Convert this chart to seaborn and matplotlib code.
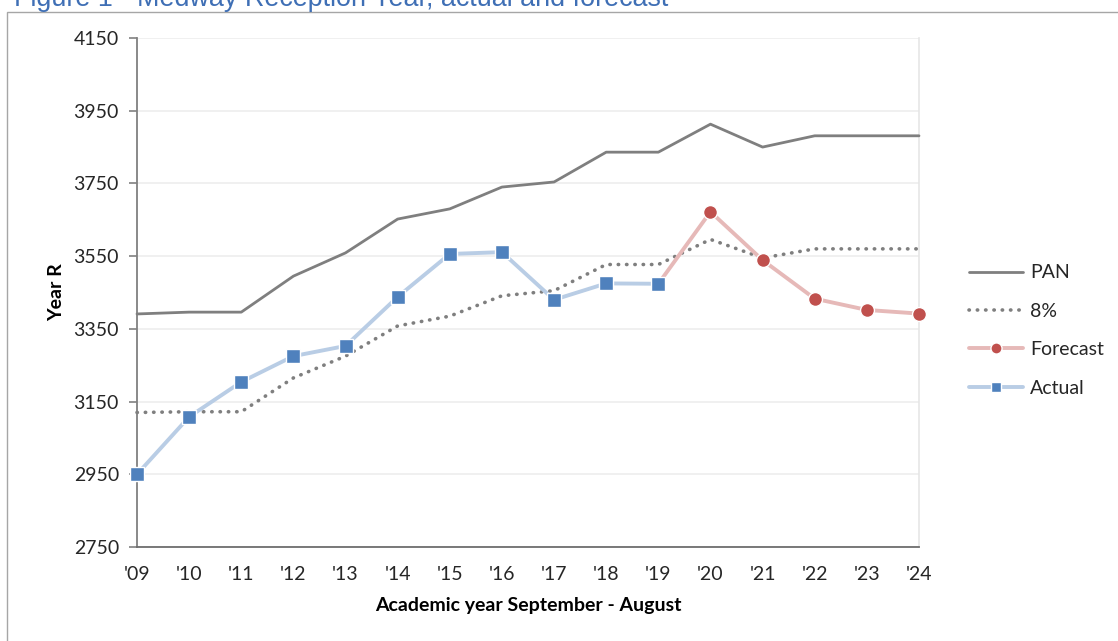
import matplotlib
matplotlib.use("Agg")
import matplotlib.pyplot as plt
from matplotlib.patches import Rectangle
from matplotlib.lines import Line2D
import seaborn as sns
import pandas as pd

# Academic years (Sept - Aug), shown as two-digit labels
years = ["'09", "'10", "'11", "'12", "'13", "'14", "'15", "'16",
         "'17", "'18", "'19", "'20", "'21", "'22", "'23", "'24"]

# Published admission number
pan = [3391, 3396, 3396, 3495, 3559, 3652, 3680, 3740,
       3754, 3836, 3836, 3913, 3850, 3881, 3881, 3881]

# PAN less 8% surplus
pct8 = [3120, 3122, 3122, 3215, 3275, 3358, 3385, 3441,
        3455, 3527, 3527, 3596, 3545, 3570, 3570, 3570]

# Actual Year R numbers on roll, '09 to '19
actual = [2950, 3108, 3204, 3275, 3303, 3438, 3556, 3561,
          3430, 3475, 3474]

# Forecast, continuing from the last actual year ('19 to '24)
forecast = [3474, 3672, 3539, 3433, 3402, 3392]

yticks = [2750, 2950, 3150, 3350, 3550, 3750, 3950, 4150]

sns.set_theme(style="white")
plt.rcParams["font.family"] = ["Lato", "DejaVu Sans"]

fig = plt.figure(figsize=(11.18, 6.41), dpi=100)
ax = fig.add_axes([137 / 1118, 1 - 547 / 641, (919 - 137) / 1118, (547 - 38) / 641])

idx = list(range(len(years)))
df_pan = pd.DataFrame({"x": idx, "y": pan})
df_8 = pd.DataFrame({"x": idx, "y": pct8})
df_act = pd.DataFrame({"x": idx[:len(actual)], "y": actual})
df_fc = pd.DataFrame({"x": idx[len(actual) - 1:], "y": forecast})

sns.lineplot(data=df_pan, x="x", y="y", ax=ax, color="#7F7F7F", lw=2.0, zorder=3,
             clip_on=False)
sns.lineplot(data=df_8, x="x", y="y", ax=ax, color="#7F7F7F", lw=2.6,
             linestyle=(0, (0.1, 2.2)), dash_capstyle="round", zorder=3, clip_on=False)
sns.lineplot(data=df_fc, x="x", y="y", ax=ax, color="#E6B9B8", lw=2.8, zorder=4,
             marker="o", markersize=10, markerfacecolor="#C0504D",
             markeredgecolor="white", markeredgewidth=1.0,
             markevery=list(range(1, len(forecast))), clip_on=False)
sns.lineplot(data=df_act, x="x", y="y", ax=ax, color="#B9CDE5", lw=2.8, zorder=5,
             marker="s", markersize=9.5, markerfacecolor="#4F81BD",
             markeredgecolor="white", markeredgewidth=1.0, clip_on=False)

ax.set_xlim(0, len(years) - 1)
ax.set_ylim(2750, 4150)
ax.set_xticks(idx)
ax.set_xticklabels(years)
ax.set_yticks(yticks)
ax.grid(axis="y", color="#EDEDED", lw=1.2)
ax.set_axisbelow(True)

ax.spines["top"].set_visible(False)
ax.spines["right"].set_color("#E6E6E6")
ax.spines["right"].set_linewidth(1.2)
ax.spines["left"].set_color("#808080")
ax.spines["left"].set_linewidth(1.3)
ax.spines["bottom"].set_color("#6E6E6E")
ax.spines["bottom"].set_linewidth(1.3)

ax.tick_params(axis="y", direction="out", length=6, width=1.2, color="#808080",
               labelsize=14, labelcolor="#262626", pad=7, left=True)
ax.tick_params(axis="x", length=0, labelsize=14, labelcolor="#262626", pad=14)

ax.set_xlabel("Academic year September - August", fontsize=14, fontweight="bold",
              color="black", labelpad=10)
ax.set_ylabel("Year R", fontsize=14, fontweight="bold", color="black", labelpad=6)

handles = [
    Line2D([], [], color="#7F7F7F", lw=2.0),
    Line2D([], [], color="#7F7F7F", lw=2.6, linestyle=(0, (0.1, 2.2)),
           dash_capstyle="round"),
    Line2D([], [], color="#E6B9B8", lw=2.8, marker="o", markersize=8,
           markerfacecolor="#C0504D", markeredgecolor="white"),
    Line2D([], [], color="#B9CDE5", lw=2.8, marker="s", markersize=7.5,
           markerfacecolor="#4F81BD", markeredgecolor="white"),
]
labels = ["PAN", "8%", "Forecast", "Actual"]
fig.legend(handles, labels, loc="upper left", bbox_to_anchor=(951 / 1118, 1 - 247 / 641),
           frameon=False, fontsize=14, handlelength=2.8, handletextpad=0.35,
           labelspacing=1.1, labelcolor="#262626")

# Outer chart frame
fig.patches.append(Rectangle((7 / 1118, -0.05), 1.2, 1 - 12 / 641 + 0.05,
                             transform=fig.transFigure, fill=False,
                             edgecolor="#A6A6A6", lw=1.0, zorder=0))

fig.text(14 / 1118, 1 - 6 / 641, "Figure 1 - Medway Reception Year, actual and forecast",
         fontsize=19.4, color="#3F6FB5", family=["Liberation Sans", "DejaVu Sans"],
         ha="left", va="baseline")

fig.savefig("out.png", dpi=100)
